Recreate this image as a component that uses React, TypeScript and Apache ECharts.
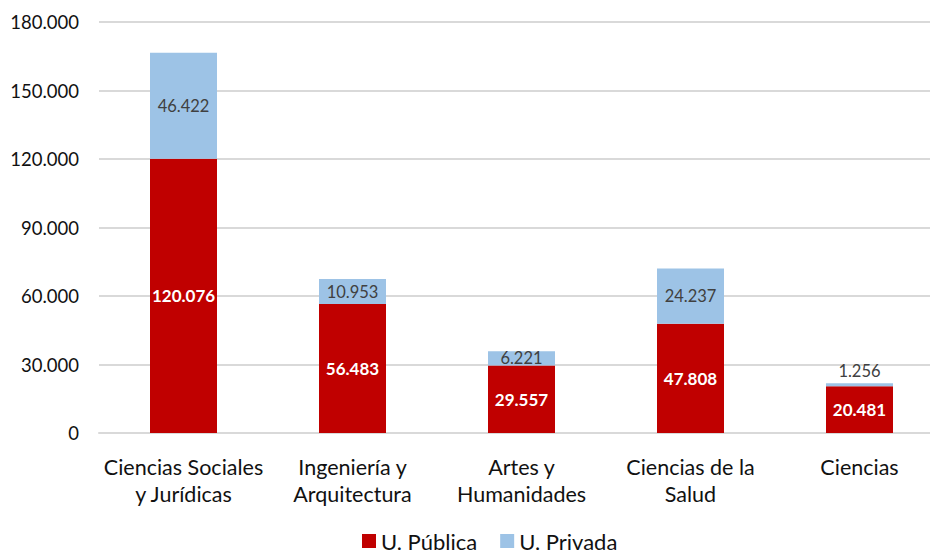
import React, { useEffect, useRef } from "react";
import * as echarts from "echarts";

const categories = [
  "Ciencias Sociales\ny Jurídicas",
  "Ingeniería y\nArquitectura",
  "Artes y\nHumanidades",
  "Ciencias de la\nSalud",
  "Ciencias",
];
const publica = [120076, 56483, 29557, 47808, 20481];
const privada = [46422, 10953, 6221, 24237, 1256];
const privadaLabelPos = ["inside", "inside", "inside", "inside", "top"];

const fmt = (v: number) =>
  String(Math.round(v)).replace(/\B(?=(\d{3})+(?!\d))/g, ".");

const FONT = "Lato, 'Open Sans', sans-serif";

export default function App() {
  const ref = useRef<HTMLDivElement>(null);
  useEffect(() => {
    const chart = echarts.init(ref.current!, null, { renderer: "svg" });
    chart.setOption({
      animation: false,
      textStyle: { fontFamily: FONT },
      grid: { left: 99, right: 0, top: 22, bottom: 124, containLabel: false },
      legend: {
        bottom: 0,
        left: 357,
        itemWidth: 14,
        itemHeight: 14,
        itemGap: 23,
        icon: "rect",
        textStyle: { fontSize: 22, color: "#111", fontFamily: FONT },
        data: ["U. Pública", "U. Privada"],
      },
      xAxis: {
        type: "category",
        data: categories,
        axisLine: { lineStyle: { color: "#d9d9d9", width: 2 } },
        axisTick: { show: false },
        axisLabel: {
          fontSize: 21.5,
          color: "#111",
          lineHeight: 27,
          margin: 20,
          interval: 0,
          fontFamily: FONT,
        },
      },
      yAxis: {
        type: "value",
        min: 0,
        max: 180000,
        interval: 30000,
        axisLine: { show: false },
        axisTick: { show: false },
        splitLine: { lineStyle: { color: "#d9d9d9", width: 2 } },
        axisLabel: {
          fontSize: 18.5,
          color: "#111",
          margin: 20,
          formatter: (v: number) => fmt(v),
          fontFamily: FONT,
        },
      },
      series: [
        {
          name: "U. Pública",
          type: "bar",
          stack: "total",
          barWidth: 67,
          itemStyle: { color: "#C00000" },
          label: {
            show: true,
            position: "inside",
            color: "#fff",
            fontWeight: "bold",
            fontSize: 17,
            fontFamily: FONT,
            formatter: (p: any) => fmt(p.value),
          },
          data: publica,
        },
        {
          name: "U. Privada",
          type: "bar",
          stack: "total",
          barWidth: 67,
          itemStyle: { color: "#9DC3E6" },
          data: privada.map((v, i) => ({
            value: v,
            label: {
              show: true,
              position: privadaLabelPos[i],
              distance: 4,
              color: "#404040",
              fontSize: 16.5,
              fontFamily: FONT,
              formatter: (p: any) => fmt(p.value),
            },
          })),
        },
      ],
    });
    return () => chart.dispose();
  }, []);
  return (
    <div
      style={{ position: "absolute", left: 0, top: 0, width: 930, height: 557, overflow: "hidden", background: "#fff" }}
    >
      <div ref={ref} style={{ width: 944, height: 557 }} />
    </div>
  );
}
